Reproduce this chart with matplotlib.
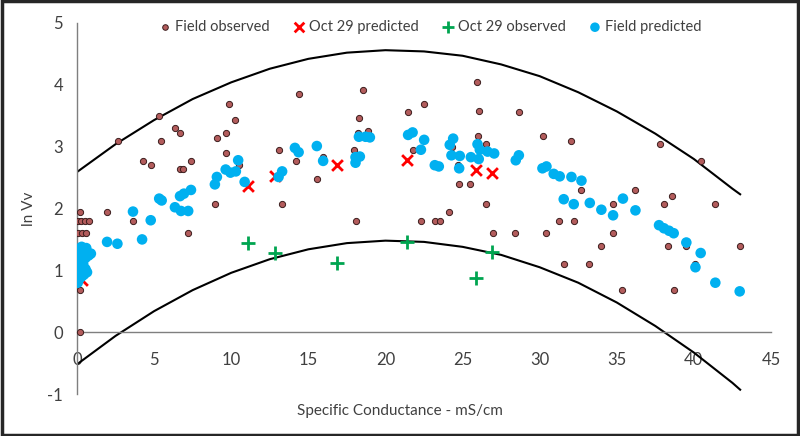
import numpy as np
import matplotlib
matplotlib.use("Agg")
import matplotlib.pyplot as plt
from matplotlib.patches import Rectangle

plt.rcParams['font.family'] = ['Lato', 'DejaVu Sans']
plt.rcParams['axes.unicode_minus'] = False

# Field observed (brown dots)
obs_x = [0.17, 1.96, 0.06, 0.28, 0.5, 0.76, 0.06, 0.3, 0.56, 0.39, 0.17, 0.17,
         3.61, 7.2, 8.97,
         2.68, 5.31, 5.44, 4.26, 4.77, 6.35, 6.68, 6.68, 6.9, 7.37, 9.1, 9.66,
         9.85, 10.24, 9.66, 10.5, 13.1, 14.39, 14.17, 13.3, 15.57, 18.57, 18.28,
         18.24, 18.88, 15.96, 17.97, 18.06,
         21.47, 22.49, 21.76, 25.94, 26.05, 26.01, 26.55, 24.32, 24.71, 24.78,
         25.47, 26.55, 24.1, 22.3, 23.2, 23.53, 26.98,
         28.65, 30.22, 32.06, 28.43, 30.44, 31.26, 32.23, 32.71, 34.76, 36.21,
         34.76, 34.0, 31.58, 33.2, 35.34,
         37.78, 40.44, 38.58, 38.06, 41.35, 38.32, 39.47, 42.97, 40.05, 38.71]
obs_y = [1.95, 1.95, 1.79, 1.79, 1.79, 1.79, 1.61, 1.61, 1.61, 1.39, 0.69, 0.0,
         1.79, 1.61, 2.08,
         3.09, 3.50, 3.09, 2.77, 2.71, 3.30, 3.22, 2.64, 2.64, 2.77, 3.14, 3.22,
         3.69, 3.43, 2.89, 2.71, 2.94, 3.85, 2.77, 2.08, 2.48, 3.91, 3.47,
         3.22, 3.26, 2.83, 2.94, 1.79,
         3.56, 3.69, 2.94, 4.04, 3.58, 3.18, 3.04, 3.00, 2.71, 2.40,
         2.40, 2.08, 1.95, 1.79, 1.79, 1.79, 1.61,
         3.56, 3.18, 3.09, 1.61, 1.61, 1.79, 1.79, 2.30, 2.08, 2.30,
         1.61, 1.39, 1.10, 1.10, 0.69,
         3.04, 2.77, 2.20, 2.08, 2.08, 1.39, 1.39, 1.39, 1.10, 0.69]

# Field predicted (blue dots)
pred_x = [0.05, 0.15, 0.3, 0.45, 0.1, 0.3, 0.55, 0.2, 0.4, 0.1, 0.3, 0.55, 0.75,
          0.9, 0.2, 0.4, 0.1, 0.6, 0.3, 0.15, 0.65,
          1.95, 2.62, 4.22, 3.63, 4.78, 5.33, 5.49, 6.35, 6.74, 7.21, 6.68, 6.93,
          7.39, 8.94, 9.07, 9.64, 9.95, 10.3, 10.45, 10.87, 13.07, 13.3, 14.13,
          14.37, 15.55, 15.96, 18.06, 18.34, 18.06, 18.28, 18.71, 18.99,
          21.47, 21.76, 22.51, 22.3, 23.2, 23.46, 24.39, 24.17, 24.28, 24.82,
          24.78, 25.54, 25.97, 26.12, 26.05, 26.62, 27.05,
          28.45, 28.65, 30.18, 30.44, 30.91, 31.3, 32.06, 32.71, 31.56, 32.21,
          33.25, 34.0, 34.76, 35.4, 36.21,
          37.74, 38.06, 38.39, 38.69, 39.51, 40.44, 40.1, 41.39, 42.97]
pred_y = [0.80, 0.86, 0.90, 0.93, 0.97, 1.00, 1.02, 1.06, 1.10, 1.14, 1.18, 1.20,
          1.24, 1.27, 1.24, 1.30, 1.33, 1.36, 1.38, 1.02, 0.97,
          1.46, 1.43, 1.50, 1.95, 1.81, 2.16, 2.13, 2.02, 1.96, 1.96, 2.20, 2.24,
          2.30, 2.39, 2.51, 2.63, 2.58, 2.60, 2.78, 2.43, 2.51, 2.60, 2.98,
          2.91, 3.01, 2.77, 2.83, 2.84, 2.74, 3.16, 3.16, 3.15,
          3.19, 3.23, 3.11, 2.95, 2.70, 2.68, 3.13, 3.03, 2.86, 2.85,
          2.65, 2.83, 3.04, 2.95, 2.80, 2.92, 2.89,
          2.78, 2.86, 2.65, 2.68, 2.56, 2.52, 2.51, 2.45, 2.15, 2.07,
          2.09, 1.98, 1.89, 2.16, 1.97,
          1.73, 1.68, 1.64, 1.60, 1.45, 1.28, 1.05, 0.80, 0.66]

# Oct 29 predicted / observed
oct_pred_x = [0.3, 11.1, 12.87, 16.88, 21.4, 25.9, 26.9]
oct_pred_y = [0.85, 2.36, 2.52, 2.70, 2.79, 2.62, 2.57]
oct_obs_x = [11.1, 12.87, 16.88, 21.4, 25.9, 26.9]
oct_obs_y = [1.45, 1.28, 1.12, 1.46, 0.87, 1.30]

# envelope curves
curve_x = [0, 2.5, 5, 7.5, 10, 12.5, 15, 17.5, 20, 22.5, 25, 27.5, 30, 32.5,
           35, 37.5, 40, 42.5, 43]
upper_y = [2.59, 3.04, 3.43, 3.77, 4.04, 4.26, 4.42, 4.52, 4.56, 4.54, 4.47,
           4.33, 4.14, 3.88, 3.57, 3.21, 2.80, 2.32, 2.23]
lower_y = [-0.52, -0.06, 0.34, 0.68, 0.96, 1.18, 1.34, 1.44, 1.48, 1.46, 1.38,
           1.25, 1.05, 0.80, 0.48, 0.10, -0.33, -0.82, -0.93]

x_ticks = [0, 5, 10, 15, 20, 25, 30, 35, 40, 45]
y_ticks = [-1, 0, 1, 2, 3, 4, 5]

fig = plt.figure(figsize=(8, 4.36), dpi=100)
ax = fig.add_axes([0.09625, 0.0963, 0.8675, 0.851])

ax.plot(curve_x, upper_y, color='black', lw=1.5, zorder=2)
ax.plot(curve_x, lower_y, color='black', lw=1.5, zorder=2)

ax.scatter(obs_x, obs_y, s=20, color='#b35c5c', edgecolors='#3a1c1c',
           linewidths=0.7, label='Field observed', zorder=3)
ax.scatter(oct_pred_x, oct_pred_y, s=60, marker='x', color='#ff0000',
           linewidths=2, label='Oct 29 predicted', zorder=4)
ax.scatter(oct_obs_x, oct_obs_y, s=90, marker='+', color='#00a550',
           linewidths=2, label='Oct 29 observed', zorder=4)
ax.scatter(pred_x, pred_y, s=58, color='#00b0f0', edgecolors='none',
           label='Field predicted', zorder=5)

ax.set_xlim(0, 45)
ax.set_ylim(-1, 5)
ax.set_xticks(x_ticks)
ax.set_yticks(y_ticks)
ax.spines['top'].set_visible(False)
ax.spines['right'].set_visible(False)
ax.spines['bottom'].set_position(('data', 0))
for s in ['left', 'bottom']:
    ax.spines[s].set_color('#7f7f7f')
    ax.spines[s].set_linewidth(1.0)
ax.tick_params(length=0, labelsize=12, colors='#404040')
ax.tick_params(axis='x', pad=14)
ax.tick_params(axis='y', pad=10)

fig.text(0.5, 0.058, 'Specific Conductance - mS/cm', ha='center', va='center',
         fontsize=11, color='#404040')
fig.text(0.036, 0.52, 'ln Vv', ha='center', va='center', rotation=90,
         fontsize=11, color='#404040')

leg = ax.legend(loc='center', bbox_to_anchor=(0.535, 0.938),
                bbox_transform=fig.transFigure, ncol=4, frameon=False,
                fontsize=10.5, handletextpad=0.0, columnspacing=1.3,
                markerscale=0.9, handlelength=1.4)
for t in leg.get_texts():
    t.set_color('#404040')

fig.patches.append(Rectangle((0.002, 0.003), 0.996, 0.994, transform=fig.transFigure,
                             fill=False, edgecolor='#262626', linewidth=2.5))

fig.savefig('out.png', dpi=100)
